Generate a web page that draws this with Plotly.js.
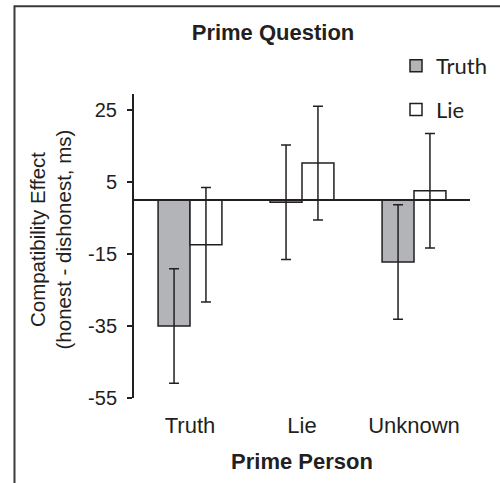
<!DOCTYPE html>
<html>
<head>
<meta charset="utf-8">
<script src="https://cdn.plot.ly/plotly-3.0.1.min.js"></script>
<style>html,body{margin:0;padding:0;background:#fff;}#chart{width:500px;height:483px;}</style>
</head>
<body>
<div id="chart"></div>
<script>
// Data
const categories = ["Truth", "Lie", "Unknown"];
const truthValues = [-35.0, -0.6, -17.2];
const truthErrors = [15.9, 15.9, 15.9];
const lieValues = [-12.4, 10.3, 2.6];
const lieErrors = [15.9, 15.8, 15.9];
const yTickValues = [25, 5, -15, -35, -55];
const seriesNames = ["Truth", "Lie"];
const yTitleText = "Compatibility Effect<br>(honest - dishonest, ms)";

const ink = "#231f20";
const baseFont = "Liberation Sans, Arial, sans-serif";

const traces = [
  {
    type: "bar", name: seriesNames[0], x: categories, y: truthValues,
    legendgroup: "g1",
    marker: {color: "#b2b4b7", line: {color: ink, width: 1.5}},
    error_y: {type: "data", array: truthErrors, visible: true, color: ink, thickness: 1.5, width: 5}
  },
  {
    type: "bar", name: seriesNames[1], x: categories, y: lieValues,
    legendgroup: "g2",
    marker: {color: "#ffffff", line: {color: ink, width: 1.5}},
    error_y: {type: "data", array: lieErrors, visible: true, color: ink, thickness: 1.5, width: 5}
  }
];

const layout = {
  width: 500, height: 483,
  paper_bgcolor: "#ffffff", plot_bgcolor: "rgba(0,0,0,0)",
  margin: {l: 134, r: 30, t: 94, b: 85, autoexpand: false},
  font: {family: baseFont, color: ink, size: 20},
  barmode: "group", bargap: 0.43, bargroupgap: 0,
  title: {
    text: "<b>Prime Question</b>",
    font: {family: baseFont, size: 22, color: ink},
    xref: "container", x: 0.546, xanchor: "center",
    yref: "container", y: 1 - 32/483, yanchor: "middle"
  },
  xaxis: {
    type: "category", range: [-0.5, 2.5],
    showline: false, ticks: "", showgrid: false, zeroline: false,
    tickfont: {family: baseFont, size: 22, color: ink},
    ticklabelstandoff: 12,
    title: {text: "<b>Prime Person</b>", font: {family: baseFont, size: 22, color: ink}, standoff: 16}
  },
  yaxis: {
    range: [-55, 29.5],
    tickvals: yTickValues, ticktext: yTickValues.map(String),
    showline: true, linecolor: ink, linewidth: 2,
    ticks: "outside", ticklen: 5, tickwidth: 2, tickcolor: ink,
    tickfont: {family: baseFont, size: 20, color: ink},
    ticklabelstandoff: 6,
    showgrid: false,
    zeroline: true, zerolinecolor: ink, zerolinewidth: 2,
    zerolinelayer: "above traces"
  },
  annotations: [
    {
      text: yTitleText, textangle: -90, showarrow: false,
      xref: "paper", yref: "paper",
      x: (51 - 134) / 336, xanchor: "center",
      y: (398 - 240) / 303, yanchor: "middle",
      font: {family: baseFont, size: 20.5, color: ink}
    }
  ],
  showlegend: true,
  legend: {
    xref: "container", yref: "container",
    x: 396 / 500, xanchor: "left",
    y: 1 - 45 / 483, yanchor: "top",
    traceorder: "grouped", tracegroupgap: 12,
    bgcolor: "rgba(0,0,0,0)",
    font: {family: "Lato, sans-serif", size: 22, color: ink}
  },
  shapes: [
    {
      type: "path", xref: "paper", yref: "paper", layer: "below",
      path: "M -0.3557,-0.35 L -0.3557,1.2888 L 1.2,1.2888",
      line: {color: "#3a3a3a", width: 2}
    }
  ]
};

Plotly.newPlot("chart", traces, layout, {staticPlot: true, displayModeBar: false});
</script>
</body>
</html>
